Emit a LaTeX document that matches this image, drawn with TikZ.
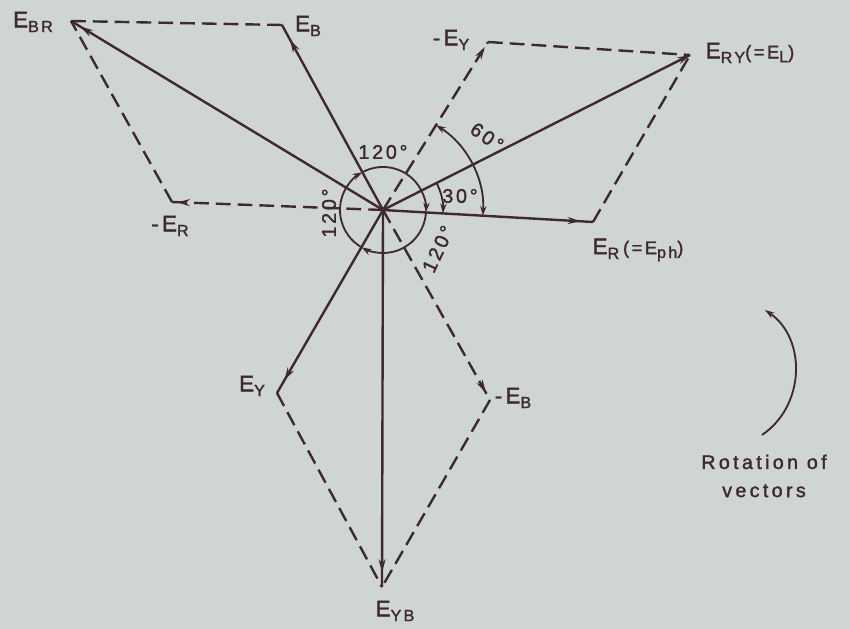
\documentclass[tikz,border=0pt]{standalone}
\usepackage{fontspec}
\newfontfamily\lettering[LetterSpace=14,FakeBold=1.6]{Liberation Sans}
\newfontfamily\wideletter[LetterSpace=17,FakeBold=1.6]{Liberation Sans}
\usetikzlibrary{arrows.meta,decorations.markings}
\definecolor{paper}{RGB}{207,213,209}
\definecolor{ink}{RGB}{62,42,46}
\newcommand{\lsub}[1]{\raisebox{-0.4ex}{\fontsize{11.5}{12}\selectfont #1}}
\newcommand{\lpar}[1]{{\fontsize{13}{14}\selectfont #1}}

\begin{document}
\begin{tikzpicture}[
    x=0.025cm, y=-0.025cm,
    >={Stealth[length=9pt,width=5pt]},
    line/.style={draw=ink, line width=1.7pt},
    vec/.style={line, postaction={decorate, decoration={markings,
        mark=at position #1 with {\arrow{>}}}}},
    dvec/.style={vec=#1, dash pattern=on 10.5pt off 5pt},
    guide/.style={line, dash pattern=on 10.5pt off 5pt},
    angarc/.style={draw=ink, line width=1.3pt,
        >={Stealth[length=7pt,width=4.5pt]}},
    lbl/.style={text=ink, inner sep=1pt,
        font=\lettering\fontsize{16}{18}\selectfont},
    deg/.style={text=ink, inner sep=1pt,
        font=\lettering\fontsize{14}{15}\selectfont},
    note/.style={text=ink, inner sep=1pt, align=center,
        font=\wideletter\fontsize{14}{20}\selectfont}
]
\fill[paper] (0,0) rectangle (849,629);
\useasboundingbox (0,0) rectangle (849,629);

% phasor tips
\coordinate (O)   at (383,210);
\coordinate (ER)  at (593,222);
\coordinate (EB)  at (282,25);
\coordinate (EY)  at (277,393);
\coordinate (mER) at (172,202);
\coordinate (mEY) at (488,42);
\coordinate (mEB) at (490,400);
\coordinate (ERY) at (690,55);
\coordinate (EBR) at (71,21);
\coordinate (EYB) at (382,587);

% phase and line vectors
\draw[vec=0.94] (O) -- (ER);
\draw[vec=0.92] (O) -- (EB);
\draw[vec=0.93] (O) -- (EY);
\draw[vec=1] (O) -- (ERY);
\draw[vec=0.97] (O) -- (EBR);
\draw[vec=0.96] (O) -- (EYB);

% reversed phases
\draw[dvec=0.97] (O) -- (mEY);
\draw[dvec=0.975] (O) -- (mER);
\draw[dvec=0.96] (O) -- (mEB);

% parallelograms
\draw[guide] (mEY) -- (ERY);
\draw[guide] (ER) -- (ERY);
\draw[guide] (EB) -- (EBR);
\draw[guide] (mER) -- (EBR);
\draw[guide] (EY) -- (EYB);
\draw[guide] (mEB) -- (EYB);

% angles
\draw[angarc,->] (O) ++(118.6:1.075cm) arc[start angle=118.6, end angle=-3.3, radius=1.075cm];
\draw[angarc,->] (O) ++(-3.3:1.075cm) arc[start angle=-3.3, end angle=-120, radius=1.075cm];
\draw[angarc,->] (O) ++(240:1.075cm) arc[start angle=240, end angle=118.6, radius=1.075cm];
\draw[angarc,->] (O) ++(26.8:1.5cm) arc[start angle=26.8, end angle=-3.3, radius=1.5cm];
\draw[angarc,<->] (O) ++(58:2.5cm) arc[start angle=58, end angle=-3.3, radius=2.5cm];

\node[deg] (a120t) at (383,152) {120°};
\node[deg, rotate=90] (a120l) at (329,213) {120°};
\node[deg, rotate=65] (a120r) at (438,249) {120°};
\node[deg] (a30) at (460,196) {30°};
\node[deg, rotate=-35] (a60) at (487,137) {60°};

% labels
\node[lbl] (lEBR) at (33,22) {E\lsub{BR}};
\node[lbl] (lEB) at (308,26) {E\lsub{B}};
\node[lbl] (lmEY) at (451,40) {-E\lsub{Y}};
\node[lbl] (lERY) at (750,53) {E\lsub{RY}\lpar{(=E\lsub{L})}};
\node[lbl] (lmER) at (170,226) {-E\lsub{R}};
\node[lbl] (lER) at (638,250) {E\lsub{R}\,\lpar{(=E\lsub{ph})}};
\node[lbl] (lEY) at (252,386) {E\lsub{Y}};
\node[lbl] (lmEB) at (513,398) {-E\lsub{B}};
\node[lbl] (lEYB) at (395,611) {E\lsub{YB}};

% sense of rotation
\coordinate (rotlo) at (762,435);
\coordinate (rothi) at (765,310);
\draw[angarc,->] (rotlo) .. controls (806,405) and (806,338) .. (rothi);
\node[note] (rot) at (764,476) {Rotation of\\vectors};

\end{tikzpicture}
\end{document}
